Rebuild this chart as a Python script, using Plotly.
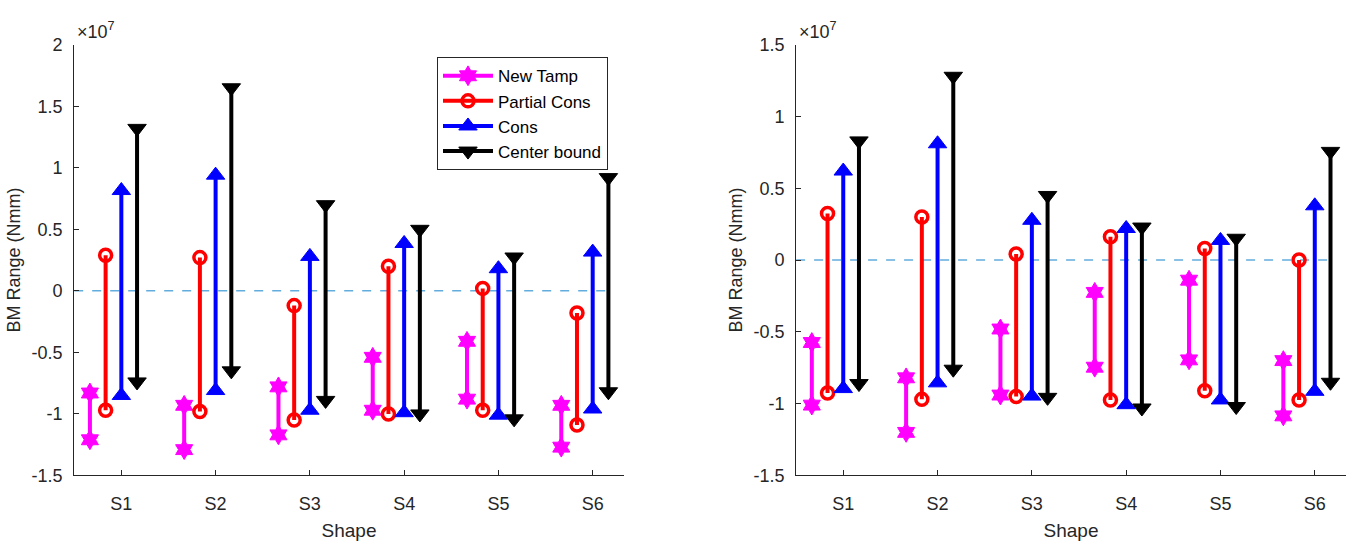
import plotly.graph_objects as go

shapes_lbl = ["S1", "S2", "S3", "S4", "S5", "S6"]
series_names = ["New Tamp", "Partial Cons", "Cons", "Center bound"]

# Left panel (values in units of 1e7 Nmm): low / high
left_newtamp_lo = [-1.21, -1.29, -1.17, -0.97, -0.88, -1.27]
left_newtamp_hi = [-0.83, -0.93, -0.78, -0.54, -0.41, -0.93]
left_partial_lo = [-0.97, -0.98, -1.05, -1.00, -0.97, -1.09]
left_partial_hi = [0.29, 0.27, -0.12, 0.20, 0.02, -0.18]
left_cons_lo = [-0.85, -0.81, -0.97, -0.99, -1.01, -0.96]
left_cons_hi = [0.815, 0.94, 0.28, 0.385, 0.18, 0.315]
left_center_lo = [-0.74, -0.65, -0.89, -1.00, -1.04, -0.82]
left_center_hi = [1.32, 1.65, 0.70, 0.50, 0.275, 0.92]

# Right panel
right_newtamp_lo = [-1.01, -1.20, -0.94, -0.746, -0.695, -1.085]
right_newtamp_hi = [-0.574, -0.82, -0.48, -0.225, -0.14, -0.70]
right_partial_lo = [-0.925, -0.97, -0.95, -0.974, -0.91, -0.974]
right_partial_hi = [0.324, 0.30, 0.043, 0.163, 0.08, 0.0]
right_cons_lo = [-0.895, -0.855, -0.947, -1.007, -0.974, -0.914]
right_cons_hi = [0.62, 0.81, 0.277, 0.22, 0.137, 0.378]
right_center_lo = [-0.86, -0.76, -0.956, -1.03, -1.02, -0.851]
right_center_hi = [0.83, 1.28, 0.45, 0.23, 0.152, 0.757]

offsets = [-1/3, -1/6, 0.0, 1/6]
colors = ["#FF00FF", "#FF0000", "#0000FF", "#000000"]
symbols = ["hexagram", "circle-open", "triangle-up", "triangle-down"]
msizes = [15, 12, 16, 16]

SCALE = 1e7

fig = go.Figure()

def add_panel(lows, highs, xa, ya, showlegend):
    for i in range(4):
        xs, ys = [], []
        for k in range(len(shapes_lbl)):
            xv = k + 1 + offsets[i]
            xs += [xv, xv, None]
            ys += [lows[i][k] * SCALE, highs[i][k] * SCALE, None]
        marker = dict(symbol=symbols[i], size=msizes[i], color=colors[i])
        if symbols[i] == "circle-open":
            marker["line"] = dict(width=3.5, color=colors[i])
        else:
            marker["line"] = dict(width=1, color=colors[i])
        fig.add_trace(go.Scatter(
            x=xs, y=ys, mode="lines+markers", name=series_names[i],
            line=dict(color=colors[i], width=4), marker=marker,
            xaxis=xa, yaxis=ya, showlegend=showlegend, connectgaps=False))

add_panel([left_newtamp_lo, left_partial_lo, left_cons_lo, left_center_lo],
          [left_newtamp_hi, left_partial_hi, left_cons_hi, left_center_hi], "x", "y", True)
add_panel([right_newtamp_lo, right_partial_lo, right_cons_lo, right_center_lo],
          [right_newtamp_hi, right_partial_hi, right_cons_hi, right_center_hi], "x2", "y2", False)

font_family = "Liberation Sans, Arial, sans-serif"
tick_col = "#262626"

xcommon = dict(range=[0.5, 6.33], tickmode="array", tickvals=list(range(1, 7)),
               ticktext=shapes_lbl, ticks="inside", ticklen=5, tickcolor=tick_col,
               showline=True, linecolor=tick_col, linewidth=1, showgrid=False,
               zeroline=False, tickfont=dict(size=18, color=tick_col, family=font_family),
               title=dict(text="Shape", font=dict(size=19, color=tick_col, family=font_family),
                          standoff=10), ticklabelstandoff=12)

def ycommon(rng, tv):
    return dict(range=rng, tickmode="array", tickvals=[v * SCALE for v in tv],
                ticktext=[("%g" % v) for v in tv], ticks="inside", ticklen=5,
                tickcolor=tick_col, showline=True, linecolor=tick_col, linewidth=1,
                showgrid=False, zeroline=False,
                tickfont=dict(size=18, color=tick_col, family=font_family),
                title=dict(text="BM Range (Nmm)", font=dict(size=18, color=tick_col, family=font_family),
                           standoff=6), ticklabelstandoff=7)

ticks_left = [-1.5, -1, -0.5, 0, 0.5, 1, 1.5, 2]
ticks_right = [-1.5, -1, -0.5, 0, 0.5, 1, 1.5]

ydom = [68 / 551, 515 / 551]
fig.update_layout(
    width=1352, height=551,
    margin=dict(l=0, r=0, t=0, b=0),
    paper_bgcolor="white", plot_bgcolor="white",
    xaxis=dict(domain=[74.2 / 1352, 623.8 / 1352], anchor="y", **xcommon),
    yaxis=dict(domain=ydom, anchor="x", **ycommon([-1.5 * SCALE, 2 * SCALE], ticks_left)),
    xaxis2=dict(domain=[796.1 / 1352, 1345.9 / 1352], anchor="y2", **xcommon),
    yaxis2=dict(domain=ydom, anchor="x2", **ycommon([-1.5 * SCALE, 1.5 * SCALE], ticks_right)),
    legend=dict(x=437 / 1352, y=(551 - 49) / 551, xanchor="left", yanchor="top",
                bordercolor="#262626", borderwidth=1, bgcolor="white",
                font=dict(size=17, color="#000000", family=font_family),
                tracegroupgap=0, itemwidth=50),
    showlegend=True,
)

for xa, ya in [("x", "y"), ("x2", "y2")]:
    fig.add_shape(type="line", xref=xa, yref=ya, x0=0.5, x1=6.18, y0=0, y1=0,
                  line=dict(color="#62ACDE", width=1.5, dash="dash"), layer="below")

for xp in [75, 797]:
    fig.add_annotation(xref="paper", yref="paper", x=xp / 1352, y=(551 - 35) / 551,
                       xanchor="left", yanchor="bottom", showarrow=False,
                       text="×10<sup>7</sup>",
                       font=dict(size=18, color=tick_col, family=font_family))

fig.write_html("out.html")
